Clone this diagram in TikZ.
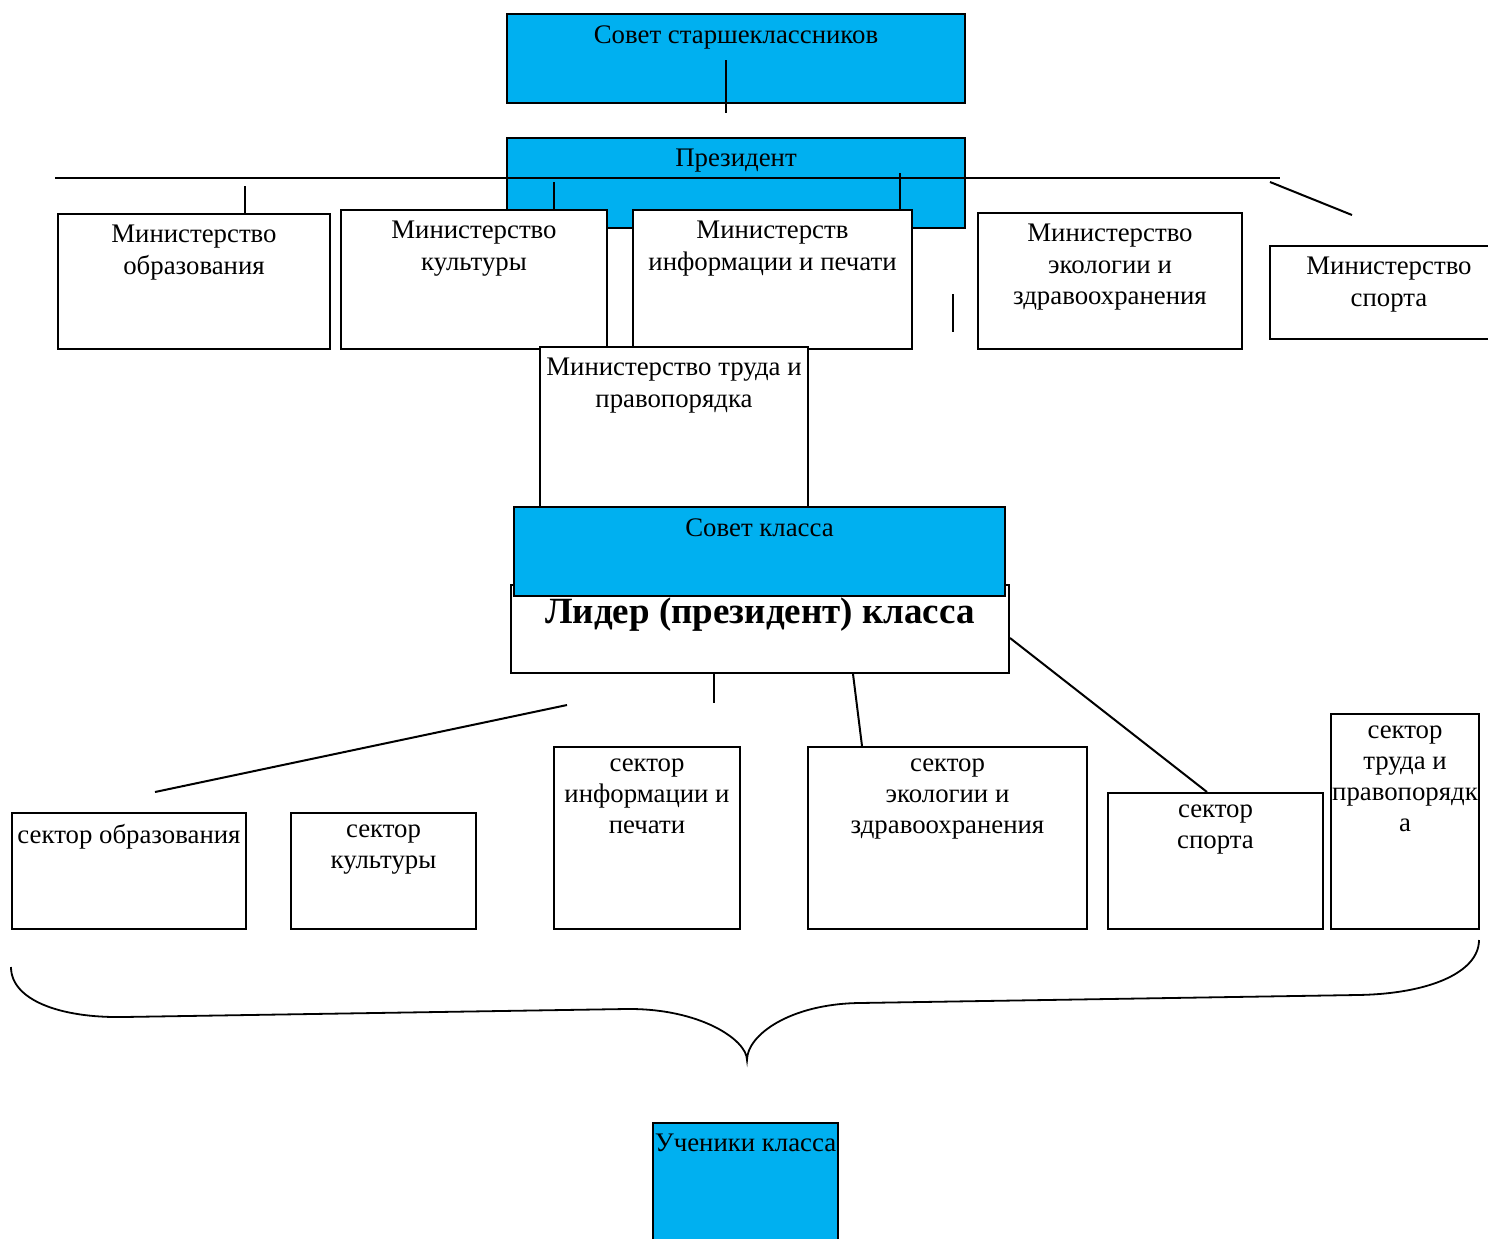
\documentclass[tikz,border=0pt]{standalone}
\usepackage{fontspec}
\setmainfont{Liberation Serif}
\usetikzlibrary{positioning}

\definecolor{boxblue}{HTML}{00B0F0}

\tikzset{
  box/.style={draw, line width=1pt, fill=white, inner sep=0pt},
  bluebox/.style={box, fill=boxblue},
  sz/.style 2 args={minimum width=#1*0.5pt, minimum height=#2*0.5pt},
  txt/.style={align=center, inner sep=0pt, font=\fontsize{13.4}{15.6}\selectfont},
  top/.style={label={[txt, anchor=north, yshift=-6pt]90:{#1}}},
  link/.style={line width=1pt}
}

\begin{document}
\begin{tikzpicture}[x=0.5pt, y=-0.5pt]
    \useasboundingbox (0,0) rectangle (1488,1238);

    % upper level
    \node[bluebox, sz={458}{89}, top={Совет старшеклассников}] (sovst) at (736,58.5) {};
    \coordinate (sv1) at (726,60);
    \coordinate (sv2) at (726,113);
    \draw[link] (sv1) -- (sv2);
    \node[bluebox, sz={458}{90}, top={Президент}] (pres) at (736,183) {};

    \coordinate (busL) at (55,178);
    \coordinate (busR) at (1280,178);
    \draw[link] (busL) -- (busR);
    \coordinate (t1) at (245,186);
    \coordinate (t2) at (554,182);
    \coordinate (t3) at (900,173);
    \coordinate (d1) at (1270,182);
    \coordinate (d2) at (1352,215);
    \coordinate (v1) at (953,294);
    \coordinate (v2) at (953,332);

    % ministries
    \node[box, sz={272}{135}, top={Министерство\\образования}] (mobr) at (194,281.5) {};
    \node[box, sz={266}{139}, top={Министерство\\культуры}] (mkul) at (474,279.5) {};
    \node[box, sz={279}{139}, top={Министерств\\информации и печати}] (minf) at (772.5,279.5) {};
    \node[box, sz={264}{136}, top={Министерство\\экологии и\\здравоохранения}] (meko) at (1110,281) {};
    \node[box, sz={238}{93}, top={Министерство\\спорта}] (mspo) at (1389,292.5) {};

    \draw[link] (t1) -- ([xshift=25.5pt]mobr.north);
    \draw[link] (t2) -- ([xshift=40pt]mkul.north);
    \draw[link] (t3) -- ([xshift=63.75pt]minf.north);
    \draw[link] (d1) -- (d2);
    \draw[link] (v1) -- (v2);

    \node[box, sz={268}{173}, top={Министерство труда и\\правопорядка}] (mtru) at (674,433.5) {};

    % class level
    \node[box, sz={498}{88}, label={[txt, anchor=north, yshift=-6.5pt, font=\fontsize{18.5}{22}\selectfont\bfseries]90:{Лидер (президент) класса}}] (lider) at (760,629) {};
    \node[bluebox, sz={491}{89}, top={Совет класса}] (sovkl) at (759.5,551.5) {};

    % sectors
    \node[box, sz={234}{116}, top={сектор образования}] (sobr) at (129,871) {};
    \node[box, sz={185}{116}, top={сектор\\культуры}] (skul) at (383.5,871) {};
    \node[box, sz={186}{182}, top={сектор\\информации и\\печати}] (sinf) at (647,838) {};
    \node[box, sz={279}{182}, top={сектор\\экологии и\\здравоохранения}] (seko) at (947.5,838) {};
    \node[box, sz={215}{136}, top={сектор\\спорта}] (sspo) at (1215.5,861) {};
    \node[box, sz={148}{215}, top={сектор\\труда и\\правопорядк\\а}] (stru) at (1405,821.5) {};

    \coordinate (lv) at (714,703);
    \coordinate (l1) at (567,705);
    \coordinate (l2) at (155,792);
    \draw[link] ([xshift=-23pt]lider.south) -- (lv);
    \draw[link] (l1) -- (l2);
    \draw[link] ([xshift=46.5pt]lider.south) -- ([xshift=-42.75pt]seko.north);
    \draw[link] ([yshift=-4.5pt]lider.east) -- ([xshift=-4.25pt]sspo.north);

    % brace
    \draw[line width=0.9pt] (11,967) .. controls (11,1000) and (60,1018) .. (123,1017)
        -- (626,1009) .. controls (700,1008) and (747,1040) .. (747,1060)
        .. controls (747,1035) and (790,1004) .. (859,1003)
        -- (1357,995) .. controls (1430,994) and (1479,972) .. (1479,940);

    \node[bluebox, sz={185}{127}, top={Ученики класса}] (uch) at (745.5,1186.5) {};
\end{tikzpicture}
\end{document}
